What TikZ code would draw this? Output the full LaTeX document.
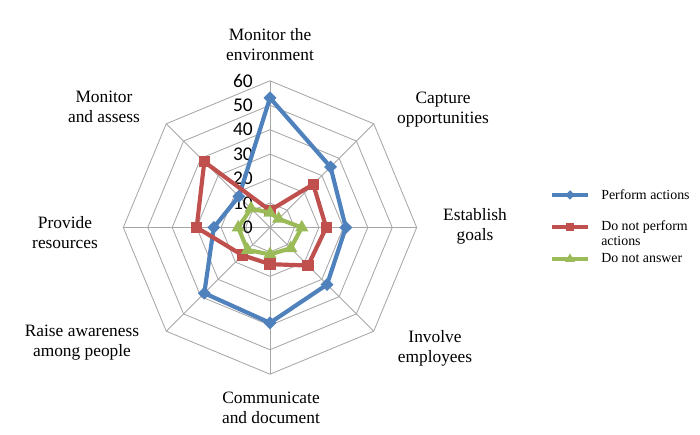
\documentclass[tikz,border=0pt]{standalone}
\usepackage{fontspec}
\setmainfont{Liberation Serif}
\newfontfamily\axisfont{Carlito}
\usetikzlibrary{shapes.geometric,calc}
\definecolor{perfblue}{HTML}{4F81BD}
\definecolor{notred}{HTML}{C0504D}
\definecolor{nansgreen}{HTML}{9BBB59}
\tikzset{
	gridline/.style={black!35,line width=0.6pt},%
	series/.style={line width=3pt,line join=round},%
	perf/.style={series,perfblue},%
	notperf/.style={series,notred},%
	noans/.style={series,nansgreen},%
	perfmark/.style={diamond,fill=perfblue,inner sep=0pt,minimum size=9.5pt},%
	notperfmark/.style={rectangle,fill=notred,inner sep=0pt,minimum size=8.2pt},%
	noansmark/.style={regular polygon,regular polygon sides=3,fill=nansgreen,inner sep=0pt,minimum size=11pt},%
	catlabel/.style={font=\fontsize{12.5}{14.4}\selectfont,align=center,inner sep=0pt},%
	ticklabel/.style={font=\axisfont\fontsize{14}{14}\selectfont,anchor=east,inner sep=0pt},%
	legendtext/.style={font=\fontsize{10}{10.8}\selectfont,align=left,anchor=west,inner sep=0pt},%
}
\def\ringstep{2.445}
\def\rmax{146.7}

\begin{document}
\begin{tikzpicture}[x=0.72pt,y=0.72pt]
	\useasboundingbox (0,0) rectangle (700,435);
	\begin{scope}[shift={(270,207.5)}]
		% Grid {{{
		\foreach \r in {1,...,6}
			\draw[gridline] (90:{\r*10*\ringstep}) \foreach \a in {45,0,...,-225}{-- (\a:{\r*10*\ringstep})} -- cycle;
		\foreach \a in {90,45,...,-225}
			\draw[gridline] (0,0) -- (\a:\rmax);
		\foreach \v in {0,10,...,60}
			\node[ticklabel] (tick\v) at (-17,{\v*\ringstep}) {\v};
		% }}}
		% Series {{{
		\foreach \v [count=\i] in {53,35,31,33,39,38,23,18}
			\coordinate (perf\i) at ({135-45*\i}:{\v*\ringstep});
		\foreach \v [count=\i] in {7,25,23,22,15,16,30,38}
			\coordinate (notperf\i) at ({135-45*\i}:{\v*\ringstep});
		\foreach \v [count=\i] in {6,5,13,12,11,13,13,11}
			\coordinate (noans\i) at ({135-45*\i}:{\v*\ringstep});
		\draw[perf] (perf1) \foreach \i in {2,...,8}{-- (perf\i)} -- cycle;
		\foreach \i in {1,...,8} \node[perfmark] (perfm\i) at (perf\i) {};
		\draw[notperf] (notperf1) \foreach \i in {2,...,8}{-- (notperf\i)} -- cycle;
		\foreach \i in {1,...,8} \node[notperfmark] (notperfm\i) at (notperf\i) {};
		\draw[noans] (noans1) \foreach \i in {2,...,8}{-- (noans\i)} -- cycle;
		\foreach \i in {1,...,8} \node[noansmark] (noansm\i) at (noans\i) {};
		% }}}
	\end{scope}
	% Categories {{{
	\node[catlabel] (environment) at (270,390) {Monitor the\\environment};
	\node[catlabel] (capture) at (443,325) {Capture\\opportunities};
	\node[catlabel] (goals) at (475,208.5) {Establish\\goals};
	\node[catlabel] (involve) at (435,87) {Involve\\employees};
	\node[catlabel] (communicate) at (271,27) {Communicate\\and document};
	\node[catlabel] (awareness) at (82,92) {Raise awareness\\among people};
	\node[catlabel] (resources) at (65,202) {Provide\\resources};
	\node[catlabel] (assess) at (104,328) {Monitor\\and assess};
	% }}}
	% Legend {{{
	\coordinate (perfa) at (552,240); \coordinate (perfb) at (588,240);
	\coordinate (notperfa) at (552,208); \coordinate (notperfb) at (588,208);
	\coordinate (noansa) at (552,176); \coordinate (noansb) at (588,176);
	\draw[perf,line width=2.4pt] (perfa) -- (perfb);
	\node[perfmark,minimum size=7pt] (perfkey) at ($(perfa)!0.5!(perfb)$) {};
	\draw[notperf,line width=2.4pt] (notperfa) -- (notperfb);
	\node[notperfmark,minimum size=6pt] (notperfkey) at ($(notperfa)!0.5!(notperfb)$) {};
	\draw[noans,line width=2.4pt] (noansa) -- (noansb);
	\node[noansmark,minimum size=8pt] (noanskey) at ($(noansa)!0.5!(noansb)$) {};
	\node[legendtext] (perftext) at (601,240) {Perform actions};
	\node[legendtext] (notperftext) at (601,201.5) {Do not perform\\actions};
	\node[legendtext] (noanstext) at (601,177) {Do not answer};
	% }}}
\end{tikzpicture}
\end{document}
